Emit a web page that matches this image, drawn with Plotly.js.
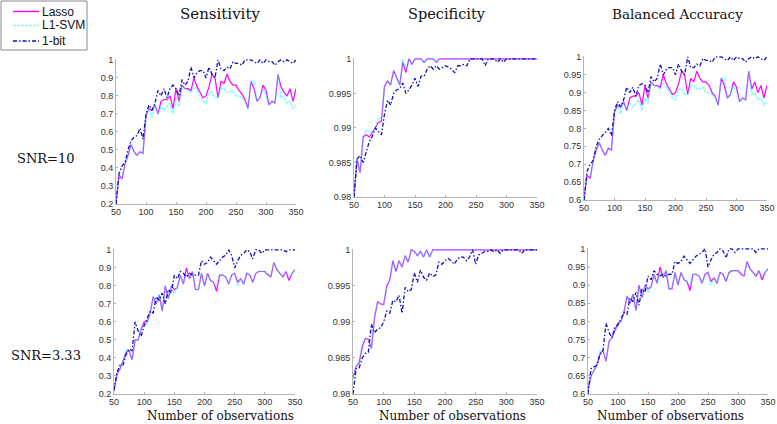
<!DOCTYPE html>
<html><head><meta charset="utf-8">
<script src="https://cdn.plot.ly/plotly-3.0.1.min.js"></script>
<style>html,body{margin:0;padding:0;background:#fff}</style>
</head><body><div id="chart" style="width:777px;height:424px"></div>
<script>
// Number of observations
const obs = [50,55,60,65,70,75,80,85,90,95,100,105,110,115,120,125,130,135,140,145,150,155,160,165,170,175,180,185,190,195,200,205,210,215,220,225,230,235,240,245,250,255,260,265,270,275,280,285,290,295,300,305,310,315,320,325,330,335,340,345,350];

// SNR = 10
const sensLasso10 = [0.20,0.36,0.34,0.42,0.47,0.53,0.49,0.47,0.49,0.48, 0.69,0.73,0.72,0.75,0.70,0.77,0.78,0.78,0.80,0.73, 0.84,0.77,0.86,0.84,0.84,0.83,0.90,0.85,0.82,0.79, 0.80,0.85,0.92,0.90,0.79,0.88,0.87,0.92,0.88,0.86, 0.86,0.83,0.81,0.78,0.73,0.88,0.84,0.77,0.79,0.86, 0.83,0.75,0.77,0.76,0.92,0.85,0.82,0.80,0.84,0.77, 0.84];
const sensSvm10 = [0.20,0.36,0.34,0.42,0.47,0.53,0.49,0.47,0.49,0.48, 0.69,0.73,0.68,0.75,0.70,0.74,0.72,0.74,0.76,0.70, 0.77,0.74,0.86,0.84,0.83,0.82,0.85,0.83,0.80,0.77, 0.76,0.82,0.82,0.79,0.79,0.84,0.84,0.82,0.82,0.83, 0.80,0.80,0.79,0.77,0.73,0.88,0.88,0.77,0.79,0.84, 0.80,0.75,0.77,0.76,0.92,0.79,0.80,0.76,0.77,0.73, 0.75];
const sensBit10 = [0.20,0.37,0.41,0.43,0.50,0.55,0.57,0.58,0.62,0.56, 0.70,0.75,0.72,0.76,0.83,0.80,0.84,0.79,0.84,0.86, 0.84,0.80,0.89,0.86,0.88,0.96,0.90,0.93,0.94,0.94, 0.90,0.96,0.92,0.90,1.00,0.95,0.94,0.96,0.95,0.99, 0.98,0.98,0.97,1.00,1.00,1.00,0.99,0.98,1.00,0.98, 1.00,0.99,0.99,0.97,0.99,1.00,0.99,1.00,0.99,0.98, 1.00];

const specLasso10 = [0.9800,0.9855,0.9835,0.9887,0.9890,0.9887,0.9893,0.9900,0.9908,0.9910, 0.9960,0.9968,0.9962,0.9983,0.9972,0.9962,0.9995,0.9980,1,0.9992, 1,1,1,0.9995,1,1,1,0.9995,1,1, 1,1,1,1,1,1,1,1,1,1, 1,1,1,1,1,1,1,1,1,1, 1,1,1,1,1,1,1,1,1,1, 1];
const specSvm10 = [0.9800,0.9855,0.9835,0.9887,0.9897,0.9895,0.9893,0.9900,0.9915,0.9913, 0.9960,0.9968,0.9962,0.9983,0.9972,0.9962,1,0.9985,1,0.9992, 1,1,1,0.9995,1,1,1,0.9995,1,1, 1,1,1,1,1,1,1,1,1,1, 1,1,1,1,1,1,1,1,1,1, 1,1,1,1,1,1,1,1,1,1, 1];
const specBit10 = [0.9800,0.9855,0.9860,0.9850,0.9865,0.9880,0.9888,0.9900,0.9895,0.9890, 0.9920,0.9940,0.9933,0.9950,0.9955,0.9957,0.9965,0.9950,0.9955,0.9962, 0.9972,0.9960,0.9975,0.9975,0.9985,0.9990,0.9985,0.9990,0.9985,0.9988, 0.9990,0.9988,0.9985,0.9980,0.9990,0.9990,0.9992,0.9990,1,1, 1,1,1,0.9990,1,1,1,0.9995,1,0.9995, 1,1,1,1,1,1,1,1,1,1, 1];

const balLasso10 = [0.60,0.67,0.66,0.71,0.74,0.76,0.74,0.725,0.745,0.74, 0.845,0.865,0.86,0.875,0.85,0.885,0.89,0.89,0.90,0.865, 0.92,0.885,0.93,0.92,0.92,0.915,0.95,0.925,0.91,0.895, 0.90,0.925,0.96,0.95,0.895,0.94,0.93,0.96,0.94,0.93, 0.93,0.92,0.90,0.89,0.865,0.94,0.92,0.885,0.895,0.93, 0.915,0.875,0.885,0.88,0.96,0.91,0.93,0.90,0.92,0.885, 0.92];
const balSvm10 = [0.60,0.67,0.66,0.71,0.74,0.76,0.74,0.725,0.745,0.74, 0.845,0.865,0.84,0.875,0.85,0.87,0.86,0.87,0.88,0.85, 0.885,0.87,0.93,0.92,0.915,0.91,0.925,0.915,0.90,0.885, 0.88,0.91,0.91,0.895,0.895,0.92,0.92,0.91,0.91,0.915, 0.90,0.90,0.895,0.885,0.865,0.94,0.94,0.885,0.895,0.92, 0.90,0.875,0.885,0.88,0.96,0.895,0.90,0.88,0.885,0.865, 0.875];
const balBit10 = [0.60,0.68,0.70,0.71,0.75,0.77,0.78,0.79,0.80,0.78, 0.85,0.875,0.86,0.88,0.915,0.90,0.915,0.89,0.92,0.925, 0.92,0.90,0.945,0.93,0.94,0.98,0.95,0.965,0.97,0.97, 0.95,0.98,0.96,0.95,1.0,0.97,0.97,0.98,0.975,0.995, 0.99,0.99,0.985,1.0,1.0,1.0,0.995,0.99,1.0,0.99, 1.0,0.995,0.995,0.985,0.995,1.0,0.995,1.0,0.995,0.99, 1.0];

// SNR = 3.33
const sensLasso3 = [0.22,0.31,0.34,0.38,0.43,0.44,0.39,0.50,0.50,0.56, 0.60,0.60,0.65,0.74,0.70,0.75,0.66,0.80,0.73,0.80, 0.78,0.79,0.86,0.81,0.90,0.84,0.88,0.78,0.78,0.87, 0.80,0.87,0.83,0.82,0.77,0.86,0.86,0.85,0.81,0.86, 0.87,0.82,0.84,0.81,0.87,0.86,0.82,0.87,0.88,0.88, 0.88,0.86,0.85,0.93,0.89,0.87,0.85,0.88,0.83,0.87, 0.89];
const sensSvm3 = [0.22,0.31,0.34,0.38,0.45,0.44,0.39,0.50,0.50,0.56, 0.58,0.59,0.65,0.74,0.70,0.75,0.66,0.80,0.73,0.80, 0.76,0.79,0.86,0.81,0.87,0.84,0.88,0.78,0.78,0.87, 0.80,0.87,0.83,0.82,0.80,0.86,0.86,0.85,0.81,0.86, 0.87,0.80,0.84,0.81,0.87,0.86,0.82,0.87,0.88,0.88, 0.88,0.87,0.85,0.93,0.89,0.87,0.85,0.88,0.85,0.87, 0.89];
const sensBit3 = [0.22,0.32,0.36,0.36,0.42,0.45,0.44,0.60,0.55,0.52, 0.58,0.62,0.66,0.65,0.74,0.72,0.76,0.70,0.78,0.76, 0.86,0.84,0.88,0.87,0.85,0.87,0.86,0.86,0.86,0.94, 0.92,0.93,0.96,0.94,0.92,0.94,0.96,0.97,1.0,0.97, 0.90,0.94,0.97,0.98,1.0,0.99,0.95,1.0,1.0,0.98, 1.0,1.0,1.0,1.0,1.0,1.0,1.0,0.99,1.0,1.0, 1.0];

const specLasso3 = [0.9822,0.9838,0.9843,0.9865,0.9877,0.9876,0.9863,0.9905,0.9928,0.9925, 0.9924,0.9950,0.9958,0.9985,0.9970,0.9985,0.9976,0.9992,0.9983,1, 0.9998,0.9992,0.9998,0.9990,1,0.9990,1,1,1,1, 1,1,1,1,1,1,1,1,1,1, 1,1,1,1,1,1,1,1,1,1, 1,1,1,1,1,1,1,1,1,1, 1];
const specSvm3 = [0.9822,0.9838,0.9846,0.9870,0.9877,0.9876,0.9863,0.9905,0.9928,0.9925, 0.9924,0.9946,0.9958,0.9985,0.9970,0.9985,0.9976,0.9992,0.9983,1, 0.9998,0.9992,0.9998,0.9990,1,0.9990,1,1,1,1, 1,1,1,1,1,1,1,1,1,1, 1,1,1,1,1,1,1,1,1,1, 1,1,1,1,1,1,1,1,1,1, 1];
const specBit3 = [0.9800,0.9835,0.9836,0.9850,0.9856,0.9858,0.9897,0.9885,0.9890,0.9892, 0.9900,0.9915,0.9912,0.9930,0.9928,0.9937,0.9912,0.9948,0.9942,0.9945, 0.9968,0.9955,0.9972,0.9962,0.9958,0.9968,0.9963,0.9965,0.9983,0.9980, 0.9985,0.9988,0.9985,0.9980,0.9987,0.9990,0.9990,0.9985,0.9990,1, 0.9980,0.9993,0.9995,0.9998,0.9998,1,0.9997,1,0.9995,1, 1,1,1,1,1,0.9995,1,1,1,1, 1];

const balLasso3 = [0.61,0.65,0.665,0.68,0.71,0.72,0.69,0.745,0.755,0.775, 0.795,0.80,0.825,0.87,0.85,0.875,0.83,0.90,0.865,0.90, 0.89,0.895,0.93,0.905,0.95,0.92,0.94,0.89,0.89,0.935, 0.90,0.935,0.915,0.91,0.885,0.93,0.93,0.925,0.905,0.93, 0.935,0.91,0.92,0.905,0.935,0.93,0.91,0.935,0.94,0.94, 0.94,0.93,0.925,0.965,0.945,0.935,0.925,0.94,0.915,0.935, 0.945];
const balSvm3 = [0.61,0.65,0.665,0.68,0.72,0.72,0.69,0.745,0.755,0.775, 0.79,0.80,0.825,0.87,0.85,0.875,0.83,0.90,0.865,0.90, 0.88,0.895,0.93,0.905,0.935,0.92,0.94,0.89,0.89,0.935, 0.90,0.935,0.915,0.91,0.90,0.93,0.93,0.925,0.905,0.93, 0.935,0.90,0.92,0.905,0.935,0.93,0.91,0.935,0.94,0.94, 0.94,0.935,0.925,0.965,0.945,0.935,0.925,0.94,0.925,0.935, 0.945];
const balBit3 = [0.60,0.67,0.675,0.68,0.71,0.72,0.795,0.77,0.755,0.785, 0.79,0.81,0.825,0.82,0.865,0.855,0.88,0.845,0.89,0.88, 0.925,0.915,0.94,0.93,0.925,0.93,0.925,0.93,0.93,0.965, 0.96,0.965,0.98,0.97,0.96,0.97,0.98,0.985,0.99,1.0, 0.95,0.97,0.985,0.99,1.0,0.995,0.975,1.0,1.0,0.99, 1,1,1,1,1,1,0.99,1,1,1, 1];

// Labels
const seriesNames = ['Lasso','L1-SVM','1-bit'];
const colTitles = ['Sensitivity','Specificity','Balanced Accuracy'];
const rowTitles = ['SNR=10','SNR=3.33'];
const xLabel = 'Number of observations';
const xTicks = [50,100,150,200,250,300,350];
const sensTicks = [0.2,0.3,0.4,0.5,0.6,0.7,0.8,0.9,1];
const sensTickText = ['0.2','0.3','0.4','0.5','0.6','0.7','0.8','0.9','1'];
const specTicks = [0.98,0.985,0.99,0.995,1];
const specTickText = ['0.98','0.985','0.99','0.995','1'];
const balTicks = [0.6,0.65,0.7,0.75,0.8,0.85,0.9,0.95,1];
const balTickText = ['0.6','0.65','0.7','0.75','0.8','0.85','0.9','0.95','1'];

const W = 777, H = 424;
const panels = [
  {d:[sensLasso10,sensSvm10,sensBit10], px:[116,296], py:[59,204], lo:0.2, tv:sensTicks, tt:sensTickText},
  {d:[specLasso10,specSvm10,specBit10], px:[354,537], py:[58,197], lo:0.98, tv:specTicks, tt:specTickText},
  {d:[balLasso10,balSvm10,balBit10], px:[584,767], py:[56,200], lo:0.6, tv:balTicks, tt:balTickText},
  {d:[sensLasso3,sensSvm3,sensBit3], px:[114,295], py:[249,394], lo:0.2, tv:sensTicks, tt:sensTickText},
  {d:[specLasso3,specSvm3,specBit3], px:[353,537], py:[249,394], lo:0.98, tv:specTicks, tt:specTickText},
  {d:[balLasso3,balSvm3,balBit3], px:[588,768], py:[248,394], lo:0.6, tv:balTicks, tt:balTickText}
];

const styles = [
  {color:'#ff00ff', width:1.2, dash:'solid', opacity:1},
  {color:'#00ffff', width:1.5, dash:'3px,1px', opacity:0.5},
  {color:'#1010b8', width:1.3, dash:'4px,2px,1.5px,2px', opacity:1}
];

const traces = [];
const layout = {
  width: W, height: H,
  margin: {l:0, r:0, t:0, b:0},
  paper_bgcolor: '#fff', plot_bgcolor: '#fff',
  showlegend: false,
  annotations: [],
  shapes: []
};

const tickFont = {family:'Liberation Sans, Arial', size:9, color:'#333'};
panels.forEach((p, i) => {
  const n = i === 0 ? '' : String(i + 1);
  p.d.forEach((ys, k) => {
    const s = styles[k];
    traces.push({
      x: obs, y: ys, type:'scatter', mode:'lines',
      name: seriesNames[k], showlegend: false,
      opacity: s.opacity,
      line: {color:s.color, width:s.width, dash:s.dash},
      xaxis: 'x' + n, yaxis: 'y' + n, hoverinfo:'skip'
    });
  });
  const pad = (1 - p.lo) * 0.006;
  layout['xaxis' + n] = {
    domain:[p.px[0]/W, p.px[1]/W], anchor:'y' + n, range:[50,350],
    tickvals: xTicks, ticktext: xTicks.map(String), tickfont: tickFont,
    ticklabeloverflow:'allow', ticklabelstandoff:-1,
    showline:true, linecolor:'#b4b4b4', linewidth:1, ticks:'inside', ticklen:2, tickcolor:'#b4b4b4',
    showgrid:false, zeroline:false, fixedrange:true
  };
  layout['yaxis' + n] = {
    domain:[1 - p.py[1]/H, 1 - p.py[0]/H], anchor:'x' + n, range:[p.lo, 1 + pad],
    tickvals: p.tv, ticktext: p.tt, tickfont: tickFont,
    showline:true, linecolor:'#b4b4b4', linewidth:1, ticks:'inside', ticklen:2, tickcolor:'#b4b4b4',
    showgrid:false, zeroline:false, fixedrange:true
  };
});

// Legend box (top-left), drawn in paper coordinates
const px2x = v => v / W, px2y = v => 1 - v / H;
layout.shapes.push({type:'rect', xref:'paper', yref:'paper', x0:px2x(1), x1:px2x(87), y0:px2y(50), y1:px2y(1),
  line:{color:'#8a8a8a', width:1}, fillcolor:'#fff'});
const legRowY = [11.5, 25.5, 41];
seriesNames.forEach((nm, k) => {
  const s = styles[k];
  layout.shapes.push({type:'line', xref:'paper', yref:'paper', x0:px2x(13), x1:px2x(39), y0:px2y(legRowY[k]), y1:px2y(legRowY[k]),
    opacity: s.opacity, line:{color:s.color, width:s.width + 0.2, dash:s.dash}});
  layout.annotations.push({text:nm, xref:'paper', yref:'paper', x:px2x(40), y:px2y(legRowY[k]), xanchor:'left', yanchor:'middle',
    showarrow:false, font:{family:'Liberation Sans, Arial', size:12, color:'#111'}});
});

const serif = 'DejaVu Serif, Liberation Serif, serif';
const titleX = [220, 447, 677];
const titleSize = [15, 14.5, 13.5];
colTitles.forEach((t, i) => layout.annotations.push({
  text:t, xref:'paper', yref:'paper', x:titleX[i]/W, y:1 - 14/H, xanchor:'center', yanchor:'middle',
  showarrow:false, font:{family:serif, size:titleSize[i], color:'#111'}
}));
const rowY = [158, 355];
rowTitles.forEach((t, i) => layout.annotations.push({
  text:t, xref:'paper', yref:'paper', x:46/W, y:1 - rowY[i]/H, xanchor:'center', yanchor:'middle',
  showarrow:false, font:{family:serif, size:13, color:'#111'}
}));
const xlabX = [220, 453, 670];
xlabX.forEach(xx => layout.annotations.push({
  text:xLabel, xref:'paper', yref:'paper', x:xx/W, y:1 - 416/H, xanchor:'center', yanchor:'middle',
  showarrow:false, font:{family:serif, size:12, color:'#111'}
}));

Plotly.newPlot('chart', traces, layout, {staticPlot:true, displayModeBar:false});
</script></body></html>
